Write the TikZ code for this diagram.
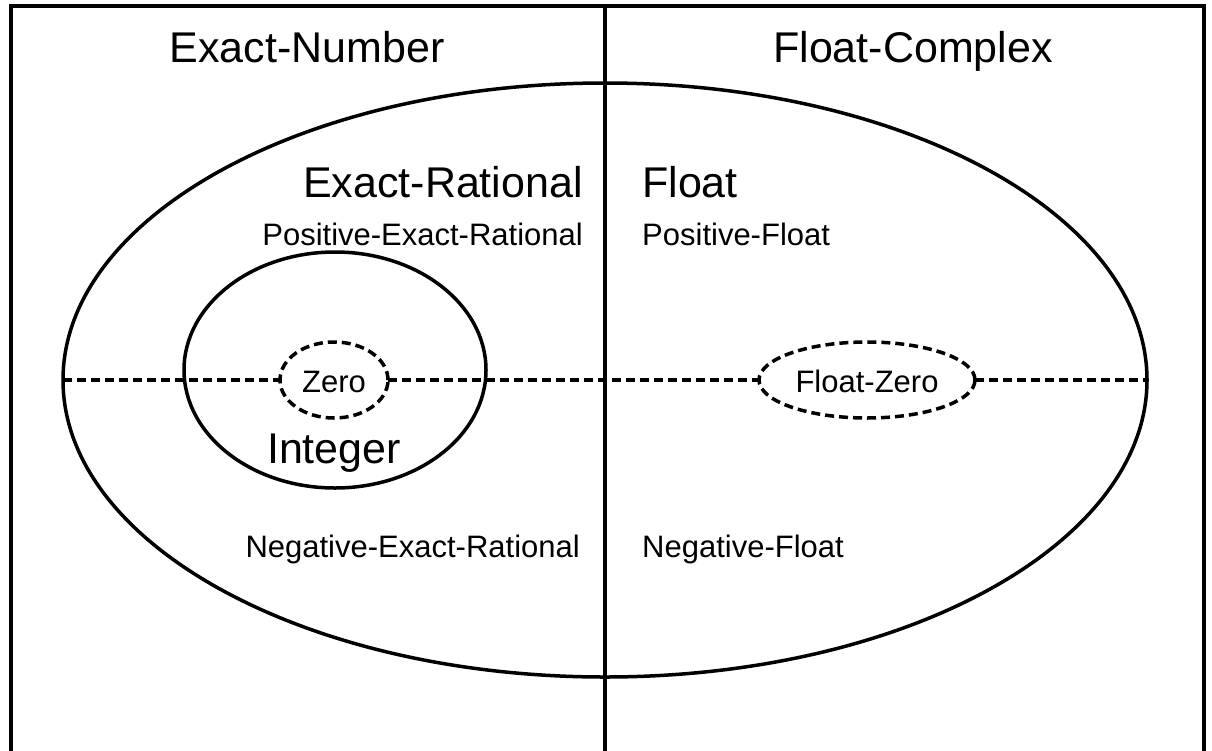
\documentclass[tikz,border=0pt]{standalone}
\usepackage{fontspec}
\setmainfont{Liberation Sans}
\usetikzlibrary{shapes.geometric}

\tikzset{
  set/.style = {draw, ellipse, line width = 3.5pt, inner sep = 0pt, outer sep = 0pt},
  zeroset/.style = {set, dashed line, fill = white},
  dashed line/.style = {line width = 3.5pt, dash pattern = on 9pt off 5pt},
  big label/.style = {font = \fontsize{43}{50}\selectfont, inner sep = 0pt},
  small label/.style = {font = \fontsize{31}{37}\selectfont, inner sep = 0pt}
}

\begin{document}
\begin{tikzpicture}[x = 1pt, y = -1pt]
		\useasboundingbox (0, 0) rectangle (1212, 750);
		
		% frame and divider
		\coordinate (frame bl) at (11, 770);
		\coordinate (frame tl) at (11, 6);
		\coordinate (frame tr) at (1204, 6);
		\coordinate (frame br) at (1204, 770);
		\coordinate (mid top) at (605, 6);
		\coordinate (mid bottom) at (605, 770);
		
		% the sets
		\node [set, minimum width = 1084pt, minimum height = 594pt] (rational) at (605, 380) {};
		\node [set, minimum width = 302pt, minimum height = 236pt] (integer) at (335, 370) {};
		\node [zeroset, minimum width = 108pt, minimum height = 76pt] (zero) at (334, 380) {};
		\node [zeroset, minimum width = 216pt, minimum height = 76pt] (float zero) at (867, 380) {};
		
		\draw [dashed line] (rational.west) -- (zero.west);
		\draw [dashed line] (zero.east) -- (float zero.west);
		\draw [dashed line] (float zero.east) -- (rational.east);
		
		\draw [line width = 3.5pt, line join = miter] (frame bl) -- (frame tl) -- (frame tr) -- (frame br);
		\draw [line width = 3.5pt] (mid top) -- (mid bottom);
		
		% labels
		\node [big label, anchor = base] (exact number) at (307, 62) {Exact-Number};
		\node [big label, anchor = base] (float complex) at (913, 62) {Float-Complex};
		
		\node [big label, anchor = base east] (exact rational) at (583, 197) {Exact-Rational};
		\node [small label, anchor = base east] (positive exact) at (583, 245) {Positive-Exact-Rational};
		\node [small label, anchor = base east] (negative exact) at (580, 557) {Negative-Exact-Rational};
		
		\node [big label, anchor = base west] (float) at (642, 197) {Float};
		\node [small label, anchor = base west] (positive float) at (642, 245) {Positive-Float};
		\node [small label, anchor = base west] (negative float) at (642, 557) {Negative-Float};
		
		\node [big label, anchor = base] (integer label) at (334, 463) {Integer};
		\node [small label, anchor = base] (zero label) at (334, 392) {Zero};
		\node [small label, anchor = base] (float zero label) at (867, 392) {Float-Zero};
	\end{tikzpicture}
\end{document}
